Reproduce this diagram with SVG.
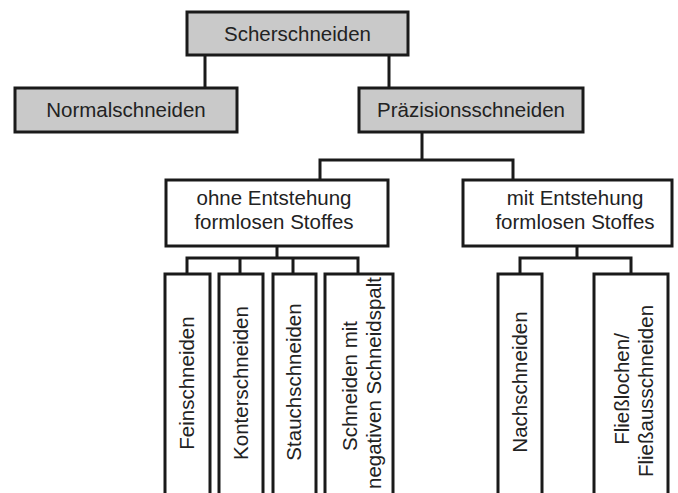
<svg xmlns="http://www.w3.org/2000/svg" width="678" height="493" viewBox="0 0 678 493">
<style>
.box{fill:#ffffff;stroke:#1a1a1a;stroke-width:3}
.grey{fill:#c9c9c9}
.t{font-family:"Liberation Sans",Arial,sans-serif;font-size:20.5px;fill:#222;text-anchor:middle}
.c{fill:none;stroke:#1a1a1a;stroke-width:3}
</style>
<rect width="678" height="493" fill="#ffffff"/>
<g id="connectors">
<path class="c" d="M205,55V88M389,55V88"/>
<path class="c" d="M422,132V160M320,180V160H513V180"/>
<path class="c" d="M277,246V258M187,274V258H358V274M240,258V274M293,258V274"/>
<path class="c" d="M577,246V258M520,274V258H631V274"/>
</g>
<g id="scherschneiden"><rect class="box grey" x="187" y="12" width="221" height="43"/><text class="t" x="297.5" y="41">Scherschneiden</text></g>
<g id="normalschneiden"><rect class="box grey" x="15" y="88" width="222" height="44"/><text class="t" x="126" y="117">Normalschneiden</text></g>
<g id="praezisionsschneiden"><rect class="box grey" x="359" y="88" width="224" height="44"/><text class="t" x="471" y="117">Präzisionsschneiden</text></g>
<g id="ohne"><rect class="box" x="166" y="180" width="222" height="66"/><text class="t" x="274" y="205">ohne Entstehung</text><text class="t" x="274" y="229">formlosen Stoffes</text></g>
<g id="mit"><rect class="box" x="463" y="180" width="209" height="66"/><text class="t" x="575" y="205">mit Entstehung</text><text class="t" x="575" y="229">formlosen Stoffes</text></g>
<g id="feinschneiden"><rect class="box" x="165" y="274" width="45" height="230"/><text class="t" transform="translate(193.5,383) rotate(-90)">Feinschneiden</text></g>
<g id="konterschneiden"><rect class="box" x="219" y="274" width="44" height="230"/><text class="t" transform="translate(247.5,383) rotate(-90)">Konterschneiden</text></g>
<g id="stauchschneiden"><rect class="box" x="273" y="274" width="43" height="230"/><text class="t" transform="translate(301,382) rotate(-90)">Stauchschneiden</text></g>
<g id="negativ"><rect class="box" x="325" y="274" width="68" height="230"/><text class="t" transform="translate(357,386) rotate(-90)">Schneiden mit</text><text class="t" transform="translate(381,383) rotate(-90)">negativen Schneidspalt</text></g>
<g id="nachschneiden"><rect class="box" x="498" y="274" width="44" height="230"/><text class="t" transform="translate(527,382) rotate(-90)">Nachschneiden</text></g>
<g id="fliess"><rect class="box" x="594" y="274" width="74" height="230"/><text class="t" transform="translate(629,389) rotate(-90)">Fließlochen/</text><text class="t" transform="translate(653,391) rotate(-90)">Fließausschneiden</text></g>
</svg>
